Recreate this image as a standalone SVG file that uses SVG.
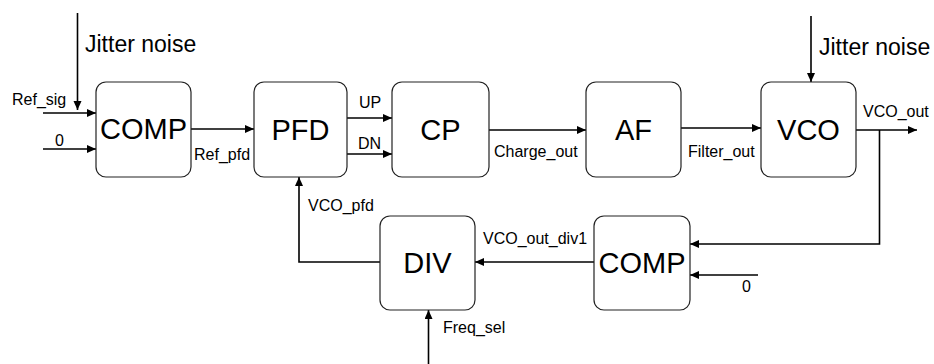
<svg xmlns="http://www.w3.org/2000/svg" width="934" height="364" viewBox="0 0 934 364">
<style>
.box{fill:#fff;stroke:#222;stroke-width:1.2}
.bt{font-family:"Liberation Sans",Arial,sans-serif;font-size:29px;fill:#000;text-anchor:middle}
.lb{font-family:"Liberation Sans",Arial,sans-serif;font-size:16px;fill:#000}
.jn{font-family:"Liberation Sans",Arial,sans-serif;font-size:23px;fill:#000}
.cn{fill:none;stroke:#000;stroke-width:1.6}
.ar{marker-end:url(#ah)}
</style>
<defs>
<marker id="ah" markerUnits="userSpaceOnUse" markerWidth="10" markerHeight="9" refX="9" refY="4" orient="auto">
<path d="M0,0 L9,4 L0,8 Z" fill="#000"/>
</marker>
</defs>
<rect width="934" height="364" fill="#fff"/>
<g id="connectors">
<path class="cn ar" d="M77.5,13 V110"/>
<path class="cn ar" d="M43,113 H96"/>
<path class="cn ar" d="M43,149 H96"/>
<path class="cn ar" d="M191,129 H254"/>
<path class="cn ar" d="M347,118 H392"/>
<path class="cn ar" d="M347,154 H392"/>
<path class="cn ar" d="M489,130 H586"/>
<path class="cn ar" d="M681,128 H761"/>
<path class="cn ar" d="M811,16 V82"/>
<path class="cn ar" d="M856,130 H917"/>
<path class="cn ar" d="M879.5,130 V244 H690"/>
<path class="cn ar" d="M758,275 H690"/>
<path class="cn ar" d="M594,262 H475"/>
<path class="cn ar" d="M380,262 H299 V177"/>
<path class="cn ar" d="M428.5,364 V310"/>
</g>
<g id="labels">
<text class="jn" x="85" y="52">Jitter noise</text>
<text class="jn" x="819" y="55">Jitter noise</text>
<text class="lb" x="12" y="105">Ref_sig</text>
<text class="lb" x="55" y="146">0</text>
<text class="lb" x="194" y="160">Ref_pfd</text>
<text class="lb" x="359" y="108">UP</text>
<text class="lb" x="358" y="149">DN</text>
<text class="lb" x="494" y="157">Charge_out</text>
<text class="lb" x="688" y="157">Filter_out</text>
<text class="lb" x="863" y="117">VCO_out</text>
<text class="lb" x="483" y="244">VCO_out_div1</text>
<text class="lb" x="308" y="211">VCO_pfd</text>
<text class="lb" x="742" y="292">0</text>
<text class="lb" x="443" y="333">Freq_sel</text>
</g>
<g id="comp1"><rect class="box" x="96" y="82" width="95" height="95" rx="10"/><text class="bt" x="143.5" y="139">COMP</text></g>
<g id="pfd"><rect class="box" x="254" y="82" width="93" height="95" rx="10"/><text class="bt" x="300.5" y="140">PFD</text></g>
<g id="cp"><rect class="box" x="392" y="82" width="97" height="95" rx="10"/><text class="bt" x="440.5" y="140">CP</text></g>
<g id="af"><rect class="box" x="586" y="82" width="95" height="95" rx="10"/><text class="bt" x="633.5" y="140">AF</text></g>
<g id="vco"><rect class="box" x="761" y="82" width="95" height="95" rx="10"/><text class="bt" x="808.5" y="140">VCO</text></g>
<g id="div"><rect class="box" x="380" y="216" width="95" height="94" rx="10"/><text class="bt" x="427.5" y="273">DIV</text></g>
<g id="comp2"><rect class="box" x="594" y="216" width="96" height="94" rx="10"/><text class="bt" x="642" y="273">COMP</text></g>
</svg>
